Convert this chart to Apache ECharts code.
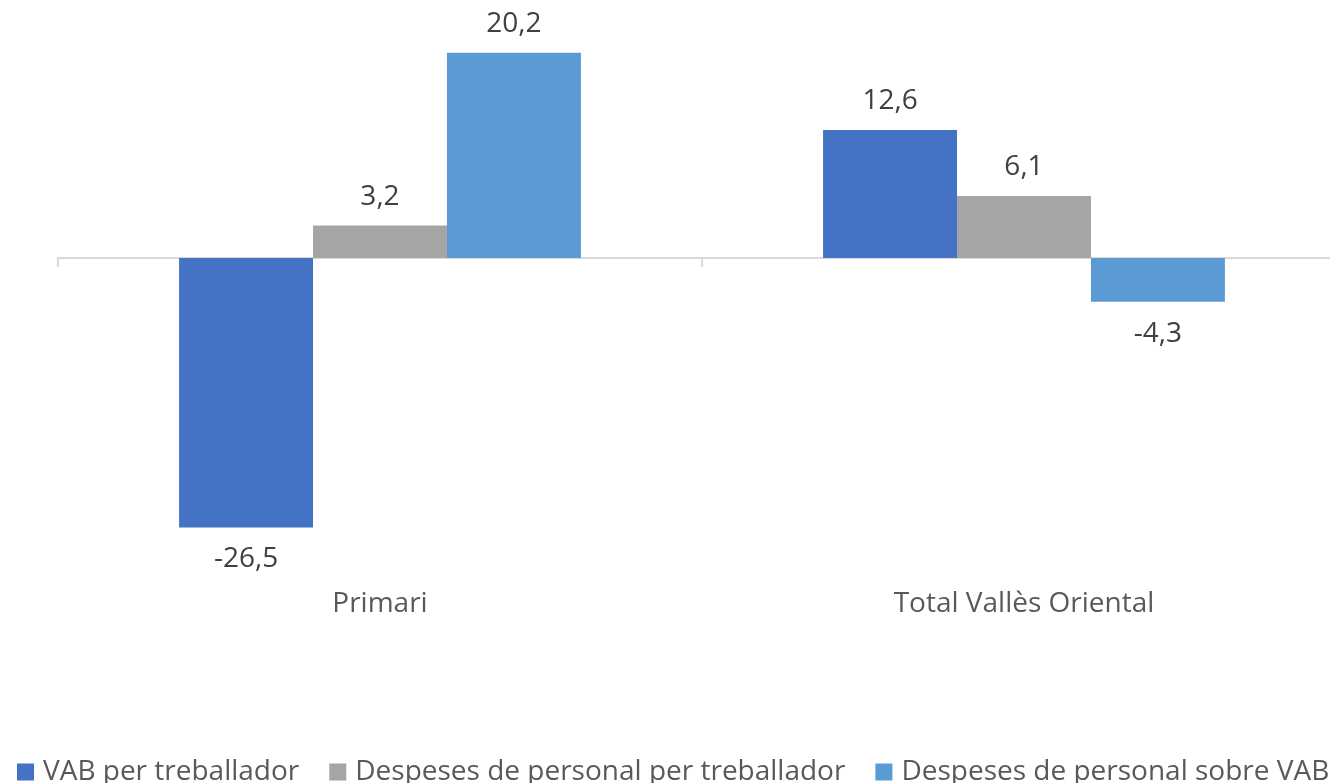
<!DOCTYPE html>
<html><head><meta charset="utf-8">
<script src="https://cdn.jsdelivr.net/npm/echarts@6/dist/echarts.min.js"></script>
<style>html,body{margin:0;padding:0;background:#fff;overflow:hidden}#c{width:1346px;height:783px}</style>
</head><body><div id="c"></div>
<script>
const categories = ['Primari', 'Total Vallès Oriental'];
const seriesNames = ['VAB per treballador', 'Despeses de personal per treballador', 'Despeses de personal sobre VAB'];
const vabPerTreballador = [-26.5, 12.6];
const despesesPerTreballador = [3.2, 6.1];
const despesesSobreVAB = [20.2, -4.3];
const colors = ['#4472C4', '#A5A5A5', '#5B9BD5'];
const FONT = 'Open Sans';
const FS = 28;
const chart = echarts.init(document.getElementById('c'));
const fmt = p => p.value.toFixed(1).replace('.', ',');
function mk(name, data, color) {
  return {
    name, type: 'bar', barGap: '0%', barCategoryGap: '37.6%',
    itemStyle: {color},
    data: data.map(v => ({value: v, label: v < 0 ? {position: 'bottom', distance: 18} : {position: 'top', distance: 15}})),
    label: {show: true, formatter: fmt, color: '#404040', fontFamily: FONT, fontSize: FS}
  };
}
const series = [mk(seriesNames[0], vabPerTreballador, colors[0]), mk(seriesNames[1], despesesPerTreballador, colors[1]), mk(seriesNames[2], despesesSobreVAB, colors[2])];
chart.setOption({
  animation: false,
  textStyle: {fontFamily: FONT},
  grid: {left: 58, right: 0, top: 4, height: 559},
  legend: {
    top: 753, left: 12, itemWidth: 17, itemHeight: 17, itemGap: 30, icon: 'rect',
    textStyle: {fontFamily: FONT, fontSize: FS, color: '#595959', padding: [0, 0, 0, 4]},
    data: seriesNames
  },
  xAxis: {
    type: 'category', data: categories,
    axisLine: {onZero: true, lineStyle: {color: '#D9D9D9', width: 2}},
    axisTick: {show: true, length: 9, lineStyle: {color: '#D9D9D9', width: 2}},
    axisLabel: {show: false}
  },
  yAxis: {type: 'value', min: -30, max: 25, show: false, splitLine: {show: false}},
  graphic: categories.map((c, i) => ({
    type: 'text', x: 58 + 1288 / 4 + i * 1288 / 2, y: 604,
    style: {text: c, fontFamily: FONT, fontSize: FS, fill: '#595959', align: 'center', verticalAlign: 'middle'}
  })),
  series
});
</script></body></html>
